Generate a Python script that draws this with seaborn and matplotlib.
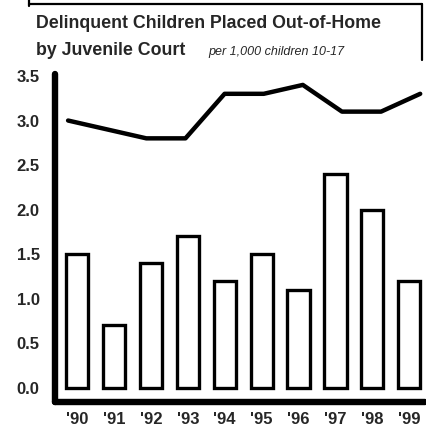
import matplotlib
matplotlib.use("Agg")
import matplotlib.pyplot as plt
from matplotlib.transforms import Affine2D
import numpy as np
import pandas as pd
import seaborn as sns

# Data: delinquent children placed out-of-home, per 1,000 children aged 10-17
years = ["'90", "'91", "'92", "'93", "'94", "'95", "'96", "'97", "'98", "'99"]
placed_rate = [1.5, 0.7, 1.4, 1.7, 1.2, 1.5, 1.1, 2.4, 2.0, 1.2]
trend_rate = [3.0, 2.9, 2.8, 2.8, 3.3, 3.3, 3.4, 3.1, 3.1, 3.3]
y_ticks = [0.0, 0.5, 1.0, 1.5, 2.0, 2.5, 3.0, 3.5]

sns.set_theme(style="white")
plt.rcParams["font.family"] = ["Liberation Sans", "DejaVu Sans"]

df = pd.DataFrame({"year": years, "placed": placed_rate, "trend": trend_rate})

fig = plt.figure(figsize=(4.26, 4.33), dpi=100)
ax = fig.add_axes([0.129, 0.0716, 0.869, 0.757])

sns.barplot(data=df, x="year", y="placed", ax=ax, color="white",
            edgecolor="black", linewidth=2.4, width=0.6, saturation=1)

# Trend line over the same years, its horizontal run stretched a little wider
# than the bar spacing
stretch = Affine2D().scale(1.06, 1.0).translate(-0.244, 0.0)
sns.lineplot(x=np.arange(len(years)), y=df["trend"], ax=ax, color="black",
             linewidth=3.2, transform=stretch + ax.transData)

ax.set_xlim(-0.6, 9.43)
ax.set_ylim(-0.16, 3.52)

ax.set_xlabel("")
ax.set_ylabel("")
ax.set_yticks(y_ticks)
ax.set_yticklabels([f"{v:.1f}" for v in y_ticks], fontsize=12, fontweight="bold")
ax.set_xticks(range(len(years)))
ax.set_xticklabels(years, fontsize=12, fontweight="bold")
ax.tick_params(axis="x", length=0, pad=7)
ax.tick_params(axis="y", length=0, pad=11)

for side in ("top", "right"):
    ax.spines[side].set_visible(False)
for side in ("left", "bottom"):
    sp = ax.spines[side]
    sp.set_visible(True)
    sp.set_color("black")
    sp.set_linewidth(4.6)
    sp.set_capstyle("round")
    sp.set_zorder(10)

# Title block with its frame
fig.text(0.085, 0.935, "Delinquent Children Placed Out-of-Home",
         fontsize=12.8, fontweight="bold", ha="left", va="baseline")
fig.text(0.085, 0.872, "by Juvenile Court", fontsize=12.8, fontweight="bold",
         ha="left", va="baseline")
fig.text(0.488, 0.872, "per 1,000 children 10-17", fontsize=9, style="italic",
         ha="left", va="baseline")

frame = dict(color="black", linewidth=1.6, transform=fig.transFigure)
fig.add_artist(plt.Line2D([0.068, 0.99], [0.99, 0.99], **frame))
fig.add_artist(plt.Line2D([0.99, 0.99], [0.99, 0.862], **frame))
fig.add_artist(plt.Line2D([0.068, 0.068], [1.0, 0.985], **frame))

fig.savefig("out.png", dpi=100)
